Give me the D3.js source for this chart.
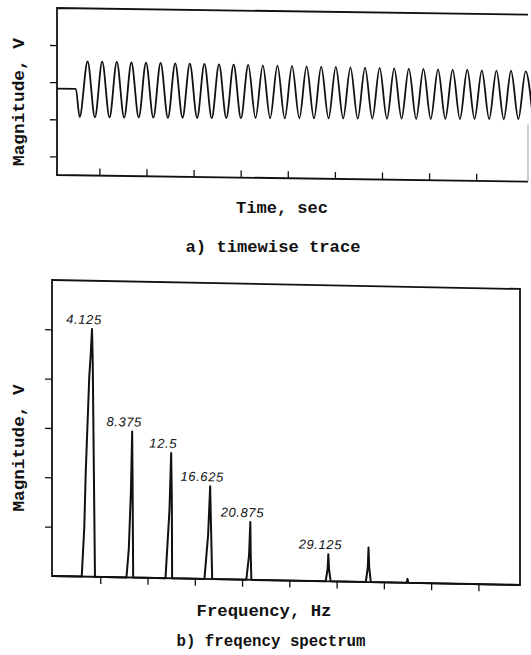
<!DOCTYPE html>
<html><head><meta charset="utf-8">
<script src="https://cdn.jsdelivr.net/npm/d3@7/dist/d3.min.js"></script>
<style>
html,body{margin:0;padding:0;background:#fff;}
svg{display:block;}
</style></head>
<body>
<svg id="chart" width="531" height="655"></svg>
<script>
// ---------------- data ----------------
// a) timewise trace: start of the flat pre-signal part, then the extrema of the oscillation
const flatTimes  = [0, 0.40];
const flatValues = [1.83, 1.83];
const peakTimes  = [0.65,0.96,1.27,1.58,1.89,2.20,2.51,2.82,3.13,3.44,3.75,4.06,4.37,4.68,4.99,5.30,5.61,5.92,6.23,6.54,6.85,7.16,7.47,7.78,8.09,8.40,8.71,9.02,9.33,9.64,9.95];
const peakValues = [2.57,2.57,2.57,2.56,2.56,2.56,2.55,2.55,2.55,2.54,2.54,2.54,2.53,2.53,2.53,2.52,2.52,2.52,2.51,2.51,2.51,2.50,2.50,2.50,2.49,2.49,2.49,2.48,2.48,2.48,2.47];
const troughTimes  = [0.48,0.805,1.115,1.425,1.735,2.045,2.355,2.665,2.975,3.285,3.595,3.905,4.215,4.525,4.835,5.145,5.455,5.765,6.075,6.385,6.695,7.005,7.315,7.625,7.935,8.245,8.555,8.865,9.175,9.485,9.795,10.105];
const troughValues = [1.07,1.07,1.07,1.07,1.08,1.08,1.08,1.09,1.09,1.09,1.10,1.10,1.11,1.11,1.11,1.12,1.12,1.13,1.13,1.13,1.14,1.14,1.15,1.15,1.15,1.16,1.16,1.17,1.17,1.17,1.18,1.18];
const timeTicks = [0.9,1.9,2.9,3.9,4.9,5.9,6.9,7.9,8.9];
const traceMagTicks = [0,1,2,3];

// b) frequency spectrum polyline (Hz, V-units)
const specFreq = [0,
  3.04,3.31,3.46,3.84,3.99,4.125,4.20,4.44,
  7.77,8.02,8.24,8.375,8.42,8.48,
  11.90,12.32,12.5,12.57,12.60,
  16.02,16.41,16.625,16.70,16.84,
  20.45,20.74,20.875,20.91,20.98,
  28.84,29.05,29.125,29.20,29.37,
  33.09,33.30,33.375,33.45,33.62,
  37.40,37.5,37.60,
  49.4];
const specMag = [0,
  0,1.0,2.1,4.07,4.5,5.02,4.4,0,
  0,0.58,1.74,2.96,1.9,0,
  0,1.38,2.54,1.6,0,
  0,0.9,1.88,1.2,0,
  0,0.5,1.17,0.6,0,
  0,0.25,0.55,0.25,0,
  0,0.3,0.70,0.3,0,
  0,0.08,0,
  0];
const peakFreqs  = [4.125, 8.375, 12.5, 16.625, 20.875, 29.125];
const peakMags   = [5.02, 2.96, 2.54, 1.88, 1.17, 0.55];
const peakLabels = ["4.125", "8.375", "12.5", "16.625", "20.875", "29.125"];
const freqTicks = [5,10,15,20,25,30,35,40,45];
const specMagTicks = [1,2,3,4,5];

// ---------------- drawing ----------------
const svg = d3.select("#chart");
const INK = "#111";
const monoFont = "'Liberation Mono', 'DejaVu Sans Mono', monospace";

// ---- panel a ----
const ax = {left:57, right:528, top:8, bottom:175};
const xT = d3.scaleLinear().domain([0,10]).range([ax.left, ax.right]);
const yT = d3.scaleLinear().domain([-0.5,4]).range([ax.bottom, ax.top]);
const gA = svg.append("g")
  .attr("transform", `translate(${ax.left},0) skewY(0.8) translate(${-ax.left},0)`);

gA.append("path")
  .attr("d", `M${ax.right},${ax.top}H${ax.left}V${ax.bottom}H${ax.right}`)
  .attr("fill","none").attr("stroke",INK).attr("stroke-width",1.8);
gA.append("line")
  .attr("x1",ax.right).attr("x2",ax.right).attr("y1",ax.top+110).attr("y2",ax.bottom)
  .attr("stroke","#999").attr("stroke-width",1);

gA.append("g").attr("transform",`translate(${ax.left},0)`)
  .call(d3.axisLeft(yT).tickValues(traceMagTicks).tickSize(7).tickFormat(""))
  .call(g=>g.select(".domain").remove())
  .call(g=>g.selectAll("line").attr("stroke",INK).attr("stroke-width",1.3));
gA.append("g").attr("transform",`translate(0,${ax.bottom})`)
  .call(d3.axisTop(xT).tickValues(timeTicks).tickSize(7).tickFormat(""))
  .call(g=>g.select(".domain").remove())
  .call(g=>g.selectAll("line").attr("stroke",INK).attr("stroke-width",1.3));

const tracePts = flatTimes.map((t,i)=>[t,flatValues[i]])
  .concat(peakTimes.map((t,i)=>[t,peakValues[i]]))
  .concat(troughTimes.map((t,i)=>[t,troughValues[i]]))
  .sort((a,b)=>a[0]-b[0]);
gA.append("path")
  .datum(tracePts)
  .attr("d", d3.line().x(d=>xT(d[0])).y(d=>yT(d[1])).curve(d3.curveMonotoneX))
  .attr("fill","none").attr("stroke",INK).attr("stroke-width",1.8);

// ---- panel b ----
const bx = {left:52, right:520, top:280, bottom:576};
const xF = d3.scaleLinear().domain([0,49.4]).range([53, bx.right]);
const yF = d3.scaleLinear().domain([0,6]).range([bx.bottom, bx.top]);
const gB = svg.append("g")
  .attr("transform", `translate(${bx.left},0) skewY(1.1) translate(${-bx.left},0)`);

gB.append("rect")
  .attr("x",bx.left).attr("y",bx.top).attr("width",bx.right-bx.left).attr("height",bx.bottom-bx.top)
  .attr("fill","none").attr("stroke",INK).attr("stroke-width",1.8);

gB.append("g").attr("transform",`translate(${bx.left},0)`)
  .call(d3.axisLeft(yF).tickValues(specMagTicks).tickSize(7).tickFormat(""))
  .call(g=>g.select(".domain").remove())
  .call(g=>g.selectAll("line").attr("stroke",INK).attr("stroke-width",1.3));
gB.append("g").attr("transform",`translate(0,${bx.bottom})`)
  .call(d3.axisBottom(xF).tickValues(freqTicks).tickSize(7).tickFormat(""))
  .call(g=>g.select(".domain").remove())
  .call(g=>g.selectAll("line").attr("stroke",INK).attr("stroke-width",1.3));

const specPts = specFreq.map((f,i)=>[f,specMag[i]]);
gB.append("path")
  .datum(specPts)
  .attr("d", d3.line().x(d=>xF(d[0])).y(d=>yF(d[1])))
  .attr("fill","none")
  .attr("stroke",INK).attr("stroke-width",2).attr("stroke-linejoin","round");

gB.selectAll("text.peak")
  .data(peakFreqs.map((f,i)=>({f, m:peakMags[i], label:peakLabels[i]})))
  .join("text").attr("class","peak")
  .attr("x", d=>xF(d.f)-8)
  .attr("y", d=>yF(d.m)-5)
  .attr("text-anchor","middle")
  .attr("font-family","'Liberation Sans', Arial, sans-serif")
  .attr("font-style","italic")
  .attr("font-size",13)
  .attr("letter-spacing",0.6)
  .attr("fill",INK)
  .text(d=>d.label);

// ---- titles ----
function title(x, y, txt, len, rot) {
  const t = svg.append("text")
    .attr("font-family", monoFont).attr("font-weight","bold")
    .attr("font-size",16).attr("fill",INK)
    .attr("text-anchor","middle")
    .attr("textLength", len).attr("lengthAdjust","spacingAndGlyphs")
    .text(txt);
  if (rot) t.attr("transform",`translate(${x},${y}) rotate(-90)`);
  else t.attr("x",x).attr("y",y);
}
title(24, 102, "Magnitude, V", 128, true);
title(24, 448, "Magnitude, V", 127, true);
title(282, 213, "Time, sec", 92);
title(273, 252, "a) timewise trace", 175);
title(264, 616, "Frequency, Hz", 135);
title(271, 646, "b) freqency spectrum", 189);
</script>
</body></html>
